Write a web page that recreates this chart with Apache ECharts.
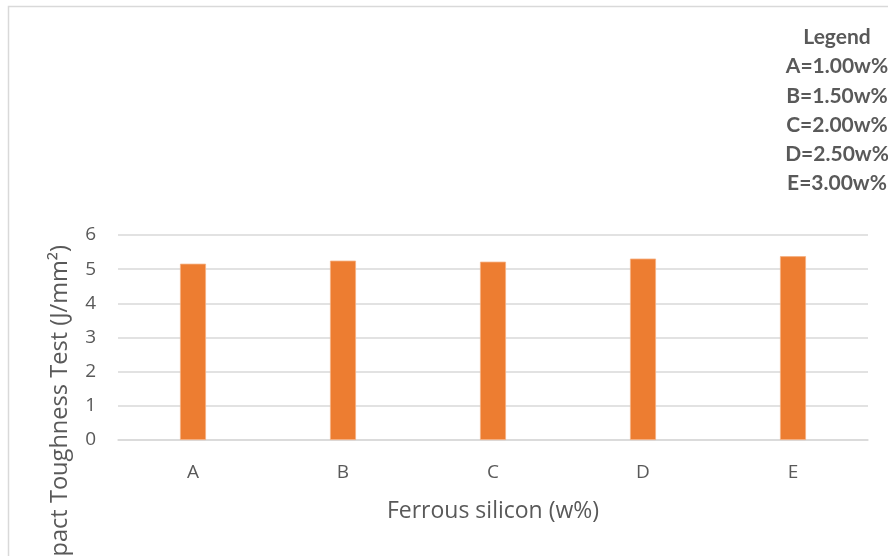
<!DOCTYPE html>
<html><head><meta charset="utf-8">
<script src="https://cdn.jsdelivr.net/npm/echarts@6/dist/echarts.min.js"></script>
<style>html,body{margin:0;padding:0;background:#fff}#c{width:888px;height:556px}</style>
</head><body><div id="c"></div>
<script>
var categories = ['A', 'B', 'C', 'D', 'E'];
var values = [5.16, 5.25, 5.22, 5.31, 5.38];
var yTicks = [0, 1, 2, 3, 4, 5, 6];
var legendTitle = 'Legend';
var legendLines = ['A=1.00w%', 'B=1.50w%', 'C=2.00w%', 'D=2.50w%', 'E=3.00w%'];
var xTitle = 'Ferrous silicon (w%)';
var yTitle = 'Impact Toughness Test (J/mm²)';

var font = '"Open Sans", sans-serif';
var legendFont = 'Lato, "Open Sans", sans-serif';
var chart = echarts.init(document.getElementById('c'), null, {renderer: 'canvas'});
var legendGraphics = [legendTitle].concat(legendLines).map(function (t, i) {
  return {type: 'text', x: 837, y: 37.5 + i * 29.2,
    style: {text: t, fill: '#595959', font: 'bold 21px ' + legendFont, textAlign: 'center', textVerticalAlign: 'middle'}};
});
chart.setOption({
  animation: false,
  backgroundColor: '#fff',
  grid: {left: 118, right: 20, top: 235, bottom: 116, containLabel: false},
  xAxis: {
    type: 'category', data: categories,
    axisLine: {show: true, lineStyle: {color: '#d9d9d9', width: 1.5}},
    axisTick: {show: false},
    axisLabel: {color: '#595959', fontSize: 19, fontFamily: font, margin: 23},
    name: xTitle, nameLocation: 'middle', nameGap: 60,
    nameTextStyle: {color: '#595959', fontSize: 23, fontFamily: font}
  },
  yAxis: {
    type: 'value', min: yTicks[0], max: yTicks[yTicks.length - 1], interval: 1,
    axisLine: {show: false}, axisTick: {show: false},
    splitLine: {lineStyle: {color: '#d9d9d9', width: 1.5}},
    axisLabel: {color: '#595959', fontSize: 19, fontFamily: font, margin: 22}
  },
  series: [{
    type: 'bar', data: values, barWidth: 26,
    itemStyle: {color: '#ED7D31', borderColor: '#F5B183', borderWidth: 0.8}
  }],
  graphic: [
    {type: 'rect', shape: {x: 8.5, y: 6.5, width: 900, height: 600},
      style: {fill: 'none', stroke: '#d9d9d9', lineWidth: 1.5}, silent: true},
    {type: 'text', x: 60, y: 245, rotation: Math.PI / 2,
      style: {text: yTitle, fill: '#595959', font: '23.6px ' + font, textAlign: 'right', textVerticalAlign: 'middle'}}
  ].concat(legendGraphics)
});
</script></body></html>
